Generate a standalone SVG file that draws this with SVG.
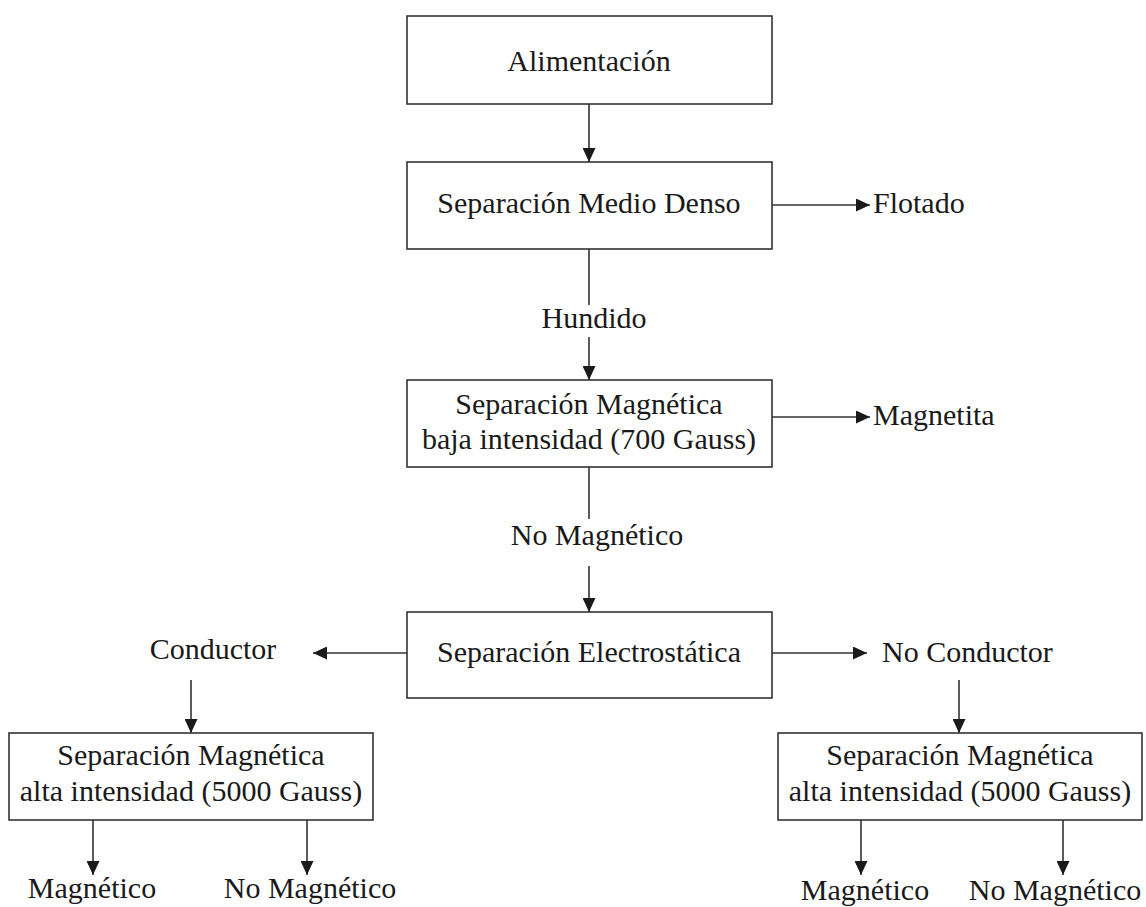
<svg xmlns="http://www.w3.org/2000/svg" width="1146" height="907" viewBox="0 0 1146 907">
<style>
.box{fill:#fff;stroke:#333;stroke-width:1.6}
.ln{stroke:#333;stroke-width:1.6;fill:none}
.ar{stroke:#333;stroke-width:1.6;fill:none;marker-end:url(#ah)}
text{font-family:"Liberation Serif","Times New Roman",serif;font-size:30px;fill:#1a1a1a}
.c{text-anchor:middle}
</style>
<defs>
<marker id="ah" markerUnits="userSpaceOnUse" markerWidth="14" markerHeight="13" refX="14" refY="6.5" orient="auto">
<path d="M0,0 L14,6.5 L0,13 z" fill="#1a1a1a"/>
</marker>
</defs>
<rect width="1146" height="907" fill="#fff"/>
<g id="connectors">
<line class="ar" x1="589" y1="104" x2="589" y2="162"/>
<line class="ar" x1="772" y1="205" x2="870" y2="205"/>
<line class="ln" x1="589" y1="249" x2="589" y2="305"/>
<line class="ar" x1="589" y1="337" x2="589" y2="380"/>
<line class="ar" x1="772" y1="417" x2="870" y2="417"/>
<line class="ln" x1="589" y1="467" x2="589" y2="519"/>
<line class="ar" x1="589" y1="566" x2="589" y2="612"/>
<line class="ar" x1="407" y1="653" x2="313" y2="653"/>
<line class="ar" x1="772" y1="653" x2="867" y2="653"/>
<line class="ar" x1="191" y1="680" x2="191" y2="733"/>
<line class="ar" x1="959" y1="680" x2="959" y2="733"/>
<line class="ar" x1="93" y1="820" x2="93" y2="875"/>
<line class="ar" x1="307" y1="820" x2="307" y2="875"/>
<line class="ar" x1="861" y1="820" x2="861" y2="875"/>
<line class="ar" x1="1063" y1="820" x2="1063" y2="875"/>
</g>
<g id="alimentacion">
<rect class="box" x="407" y="16" width="365" height="88"/>
<text class="c" x="589" y="71">Alimentación</text>
</g>
<g id="medio-denso">
<rect class="box" x="407" y="162" width="365" height="87"/>
<text class="c" x="589" y="213">Separación Medio Denso</text>
</g>
<g id="flotado"><text x="873" y="213">Flotado</text></g>
<g id="hundido"><text class="c" x="594" y="328">Hundido</text></g>
<g id="mag-baja">
<rect class="box" x="407" y="380" width="365" height="87"/>
<text class="c" x="589" y="414">Separación Magnética</text>
<text class="c" x="589" y="449">baja intensidad (700 Gauss)</text>
</g>
<g id="magnetita"><text x="873" y="425">Magnetita</text></g>
<g id="no-magnetico-1"><text class="c" x="597" y="545">No Magnético</text></g>
<g id="electrostatica">
<rect class="box" x="407" y="612" width="365" height="86"/>
<text class="c" x="589" y="662">Separación Electrostática</text>
</g>
<g id="conductor"><text class="c" x="213" y="659">Conductor</text></g>
<g id="no-conductor"><text x="882" y="662">No Conductor</text></g>
<g id="mag-alta-izq">
<rect class="box" x="9" y="733" width="364" height="87"/>
<text class="c" x="191" y="765">Separación Magnética</text>
<text class="c" x="191" y="801">alta intensidad (5000 Gauss)</text>
</g>
<g id="mag-alta-der">
<rect class="box" x="778" y="733" width="364" height="87"/>
<text class="c" x="960" y="765">Separación Magnética</text>
<text class="c" x="960" y="801">alta intensidad (5000 Gauss)</text>
</g>
<g id="magnetico-izq"><text class="c" x="92" y="898">Magnético</text></g>
<g id="no-magnetico-izq"><text class="c" x="310" y="898">No Magnético</text></g>
<g id="magnetico-der"><text class="c" x="865" y="900">Magnético</text></g>
<g id="no-magnetico-der"><text class="c" x="1055" y="900">No Magnético</text></g>
</svg>
